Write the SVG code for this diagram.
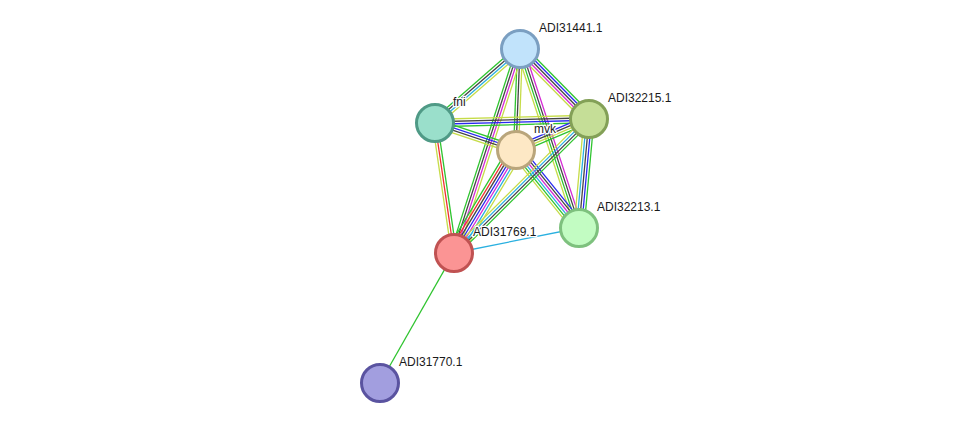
<svg xmlns="http://www.w3.org/2000/svg" width="975" height="429" viewBox="0 0 975 429">
<style>
line{stroke-width:1.3;fill:none}
.nb{stroke:#2fc42f}.fu{stroke:#f03030}.cu{stroke:#2828f0}.co{stroke:#444}.ex{stroke:#d42ad4}.db{stroke:#2ab0e0}.tm{stroke:#c6dc48}
.n circle{stroke-width:3}
text{font-family:"Liberation Sans",Arial,sans-serif;font-size:12px;fill:#1a1a1a;paint-order:stroke;stroke:#fff;stroke-width:2.5;stroke-linejoin:round}
</style>
<rect width="975" height="429" fill="#fff"/>
<g id="edges">
<g transform="translate(520,49) rotate(138.96)"><line class="tm" x2="112.7" y1="-3.75" y2="-3.75"/><line class="db" x2="112.7" y1="-1.25" y2="-1.25"/><line class="co" x2="112.7" y1="1.25" y2="1.25"/><line class="nb" x2="112.7" y1="3.75" y2="3.75"/></g>
<g transform="translate(520,49) rotate(45.41)"><line class="nb" x2="98.3" y1="-5" y2="-5"/><line class="cu" x2="98.3" y1="-2.5" y2="-2.5"/><line class="co" x2="98.3"/><line class="ex" x2="98.3" y1="2.5" y2="2.5"/><line class="tm" x2="98.3" y1="5" y2="5"/></g>
<g transform="translate(520,49) rotate(92.27)"><line class="tm" x2="101.1" y1="-2.5" y2="-2.5"/><line class="co" x2="101.1"/><line class="nb" x2="101.1" y1="2.5" y2="2.5"/></g>
<g transform="translate(520,49) rotate(107.93)"><line class="tm" x2="214.4" y1="-3.75" y2="-3.75"/><line class="ex" x2="214.4" y1="-1.25" y2="-1.25"/><line class="co" x2="214.4" y1="1.25" y2="1.25"/><line class="nb" x2="214.4" y1="3.75" y2="3.75"/></g>
<g transform="translate(520,49) rotate(71.76)"><line class="ex" x2="188.5" y1="-3.75" y2="-3.75"/><line class="co" x2="188.5" y1="-1.25" y2="-1.25"/><line class="nb" x2="188.5" y1="1.25" y2="1.25"/><line class="tm" x2="188.5" y1="3.75" y2="3.75"/></g>
<g transform="translate(435,123) rotate(-1.49)"><line class="tm" x2="154.1" y1="-3.75" y2="-3.75"/><line class="co" x2="154.1" y1="-1.25" y2="-1.25"/><line class="cu" x2="154.1" y1="1.25" y2="1.25"/><line class="nb" x2="154.1" y1="3.75" y2="3.75"/></g>
<g transform="translate(435,123) rotate(18.43)"><line class="nb" x2="85.4" y1="-3.75" y2="-3.75"/><line class="cu" x2="85.4" y1="-1.25" y2="-1.25"/><line class="co" x2="85.4" y1="1.25" y2="1.25"/><line class="tm" x2="85.4" y1="3.75" y2="3.75"/></g>
<g transform="translate(435,123) rotate(81.68)"><line class="nb" x2="131.4" y1="-2.5" y2="-2.5"/><line class="fu" x2="131.4"/><line class="tm" x2="131.4" y1="2.5" y2="2.5"/></g>
<g transform="translate(516,150) rotate(-23.01)"><line class="cu" x2="79.3" y1="-3.75" y2="-3.75"/><line class="co" x2="79.3" y1="-1.25" y2="-1.25"/><line class="tm" x2="79.3" y1="1.25" y2="1.25"/><line class="nb" x2="79.3" y1="3.75" y2="3.75"/></g>
<g transform="translate(516,150) rotate(121.05)"><line class="tm" x2="120.2" y1="-7.5" y2="-7.5"/><line class="db" x2="120.2" y1="-5" y2="-5"/><line class="ex" x2="120.2" y1="-2.5" y2="-2.5"/><line class="cu" x2="120.2"/><line class="co" x2="120.2" y1="2.5" y2="2.5"/><line class="fu" x2="120.2" y1="5" y2="5"/><line class="nb" x2="120.2" y1="7.5" y2="7.5"/></g>
<g transform="translate(516,150) rotate(51.07)"><line class="cu" x2="100.3" y1="-6.25" y2="-6.25"/><line class="co" x2="100.3" y1="-3.75" y2="-3.75"/><line class="ex" x2="100.3" y1="-1.25" y2="-1.25"/><line class="db" x2="100.3" y1="1.25" y2="1.25"/><line class="nb" x2="100.3" y1="3.75" y2="3.75"/><line class="tm" x2="100.3" y1="6.25" y2="6.25"/></g>
<g transform="translate(589,119) rotate(135.22)"><line class="nb" x2="190.2" y1="-3.75" y2="-3.75"/><line class="co" x2="190.2" y1="-1.25" y2="-1.25"/><line class="db" x2="190.2" y1="1.25" y2="1.25"/><line class="tm" x2="190.2" y1="3.75" y2="3.75"/></g>
<g transform="translate(589,119) rotate(95.24)"><line class="nb" x2="109.5" y1="-5" y2="-5"/><line class="cu" x2="109.5" y1="-2.5" y2="-2.5"/><line class="co" x2="109.5"/><line class="db" x2="109.5" y1="2.5" y2="2.5"/><line class="tm" x2="109.5" y1="5" y2="5"/></g>
<line class="db" x1="454" y1="253" x2="579" y2="228"/>
<line class="nb" x1="454" y1="253" x2="380" y2="383"/>
</g>
<g id="ADI31441.1" class="n"><circle cx="520" cy="49" r="18.5" fill="#c1e3fb" stroke="#7b9fc1"/><text x="539" y="32">ADI31441.1</text></g>
<g id="fni" class="n"><circle cx="435" cy="123" r="18.5" fill="#9adfcb" stroke="#4f9a86"/><text x="453" y="106">fni</text></g>
<g id="ADI32215.1" class="n"><circle cx="589" cy="119" r="18.5" fill="#c5de97" stroke="#83a057"/><text x="608" y="102">ADI32215.1</text></g>
<g id="mvk" class="n"><circle cx="516" cy="150" r="18.5" fill="#fde8c5" stroke="#b9a57b"/><text x="534" y="133">mvk</text></g>
<g id="ADI32213.1" class="n"><circle cx="579" cy="228" r="18.5" fill="#c2fcc2" stroke="#7ec17e"/><text x="597" y="211">ADI32213.1</text></g>
<g id="ADI31769.1" class="n"><circle cx="454" cy="253" r="18.5" fill="#fb9494" stroke="#c05252"/><text x="473" y="236">ADI31769.1</text></g>
<g id="ADI31770.1" class="n"><circle cx="380" cy="383" r="18.5" fill="#a29edf" stroke="#5a53a0"/><text x="399" y="366">ADI31770.1</text></g>
</svg>
